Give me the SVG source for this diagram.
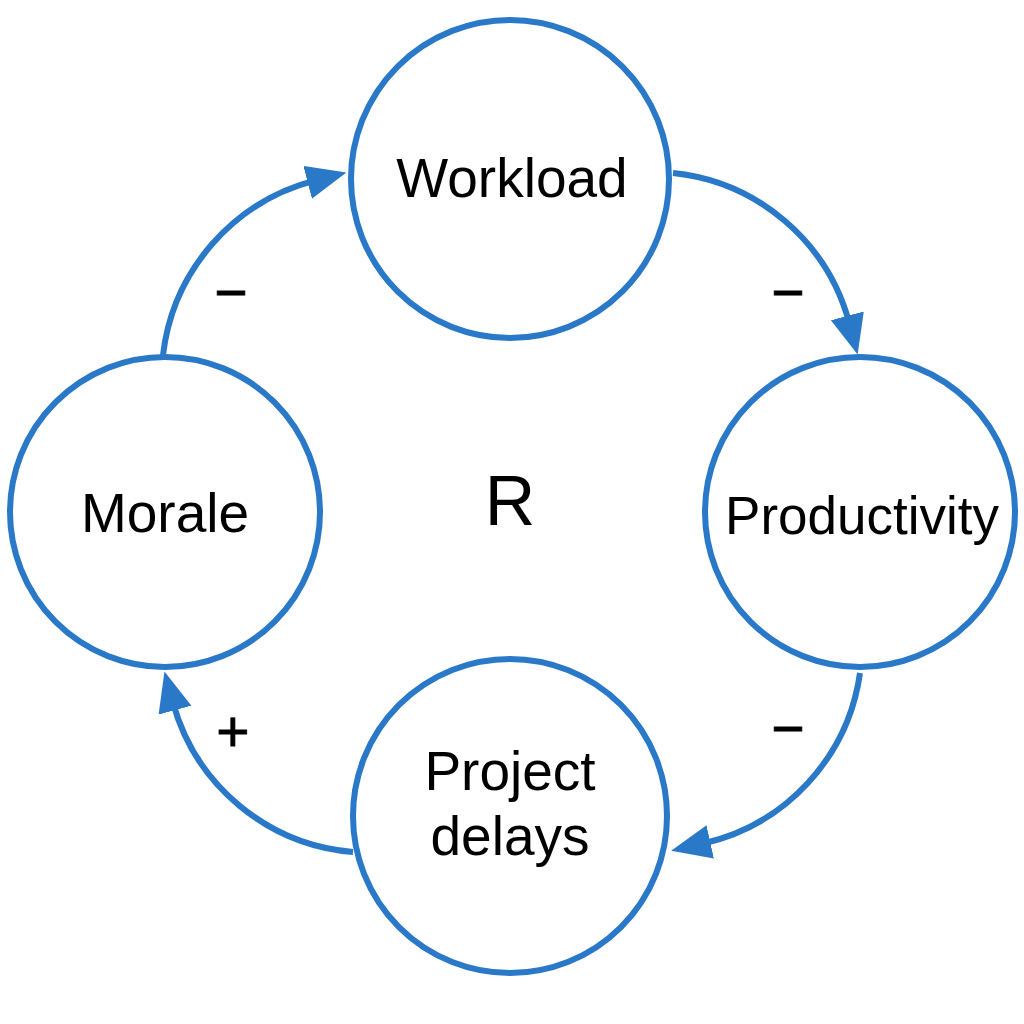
<svg xmlns="http://www.w3.org/2000/svg" width="1024" height="1024" viewBox="0 0 1024 1024">
<style>
.node{fill:#fff;stroke:#2a78c8;stroke-width:6}
.lbl{font-family:"Liberation Sans",Arial,sans-serif;font-size:55px;fill:#000;text-anchor:middle}
.edge{fill:none;stroke:#2a78c8;stroke-width:6}
.sign{font-family:"Liberation Sans",Arial,sans-serif;font-size:57px;fill:#000;stroke:#000;stroke-width:0.8;text-anchor:middle}
</style>
<defs>
<marker id="ah" markerUnits="userSpaceOnUse" markerWidth="42" markerHeight="36" refX="8" refY="17" orient="auto">
<path d="M0,0 L40,17 L0,34 z" fill="#2a78c8"/>
</marker>
</defs>
<rect width="1024" height="1024" fill="#fff"/>
<g id="connectors">
<path class="edge" d="M163,355 A205,205 0 0,1 315.4,180.4" marker-end="url(#ah)"/>
<path class="edge" d="M673,173 A204,204 0 0,1 849.4,323.6" marker-end="url(#ah)"/>
<path class="edge" d="M860,673 A204,204 0 0,1 702.4,843.7" marker-end="url(#ah)"/>
<path class="edge" d="M353,852 A204,204 0 0,1 172.9,702.4" marker-end="url(#ah)"/>
</g>
<g id="workload">
<circle class="node" cx="510" cy="179" r="159"/>
<text class="lbl" x="512" y="197">Workload</text>
</g>
<g id="productivity">
<circle class="node" cx="860" cy="512" r="155"/>
<text class="lbl" x="862" y="534" style="font-size:53px">Productivity</text>
</g>
<g id="project-delays">
<circle class="node" cx="510" cy="816" r="157"/>
<text class="lbl" x="510" y="790">Project</text>
<text class="lbl" x="510" y="855">delays</text>
</g>
<g id="morale">
<circle class="node" cx="165" cy="512" r="155"/>
<text class="lbl" x="165" y="532">Morale</text>
</g>
<g id="loop-label">
<text class="lbl" x="510" y="525" style="font-size:70px">R</text>
</g>
<g id="signs">
<text class="sign" x="231" y="312">−</text>
<text class="sign" x="788" y="312">−</text>
<text class="sign" x="788" y="748">−</text>
<text class="sign" x="233" y="751">+</text>
</g>
</svg>
